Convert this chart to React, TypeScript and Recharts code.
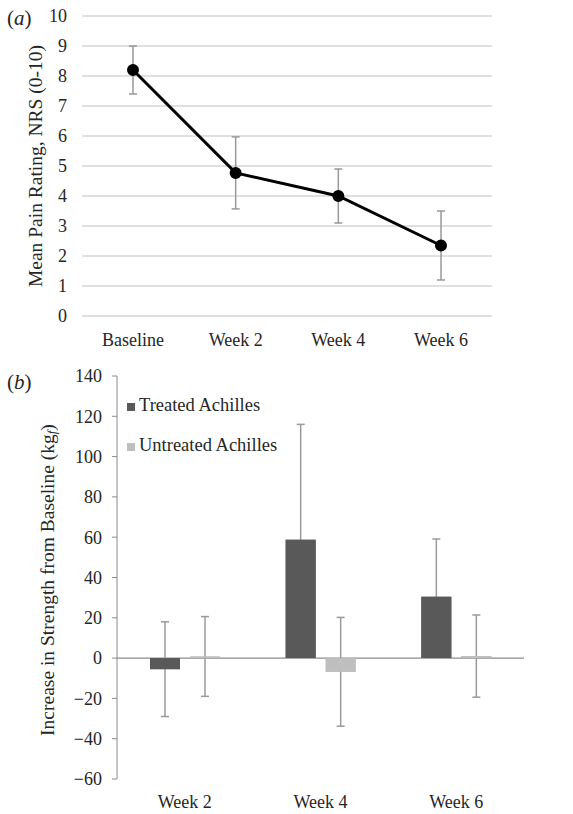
import React from 'react';
import {
  LineChart, Line, BarChart, Bar, XAxis, YAxis, CartesianGrid, ErrorBar,
  ReferenceLine, Legend,
} from 'recharts';

const painWeeks = ['Baseline', 'Week 2', 'Week 4', 'Week 6'];
const painMean = [8.2, 4.77, 4.0, 2.35];
const painSd = [0.8, 1.2, 0.9, 1.15];
const painTicks = [0, 1, 2, 3, 4, 5, 6, 7, 8, 9, 10];

const strengthWeeks = ['Week 2', 'Week 4', 'Week 6'];
const treated = [-5.5, 58.7, 30.5];
const treatedErr = [23.5, 57.3, 28.6];
const untreated = [0.8, -6.8, 1.0];
const untreatedErr = [19.8, 27, 20.4];
const strengthTicks = [-60, -40, -20, 0, 20, 40, 60, 80, 100, 120, 140];

const painData = painWeeks.map((w, i) => ({ week: w, mean: painMean[i], sd: painSd[i] }));
const strengthData = strengthWeeks.map((w, i) => ({
  week: w,
  treated: treated[i],
  treatedErr: treatedErr[i],
  untreated: untreated[i],
  untreatedErr: untreatedErr[i],
}));

const FONT = "'Liberation Serif', 'Times New Roman', serif";
const INK = '#262626';
const tickStyle = { fontFamily: FONT, fontSize: 18, fill: INK };
const minus = (v: number) => String(v).replace('-', '\u2212');

const PanelTag = ({ letter, top }: { letter: string; top: number }) => (
  <div style={{ position: 'absolute', left: 7, top, fontFamily: FONT, fontSize: 21, color: INK }}>
    (<i>{letter}</i>)
  </div>
);

export default function App() {
  return (
    <div style={{ position: 'absolute', left: 0, top: 0, width: 573, height: 814, background: '#fff', fontFamily: FONT }}>
      <div style={{ position: 'absolute', left: 0, top: 0 }}>
        <LineChart width={573} height={350} data={painData} margin={{ top: 16, right: 81, left: 0, bottom: 0 }}>
          <CartesianGrid vertical={false} stroke="#e0e0e0" strokeWidth={2} />
          <XAxis dataKey="week" axisLine={false} tickLine={false} height={34} tickMargin={11} tick={tickStyle}
            padding={{ left: 51, right: 51 }} />
          <YAxis
            width={82}
            domain={[0, 10]}
            ticks={painTicks}
            interval={0}
            axisLine={false}
            tickLine={false}
            tickMargin={9}
            tick={tickStyle}
            label={{
              content: () => (
                <text transform="translate(35,166) rotate(-90)" textAnchor="middle" dominantBaseline="central"
                  fontFamily={FONT} fontSize={19.5} fill={INK}>
                  Mean Pain Rating, NRS (0-10)
                </text>
              ),
            }}
          />
          <Line dataKey="mean" stroke="#000" strokeWidth={3} dot={{ r: 4.5, fill: '#000', stroke: '#000' }}
            isAnimationActive={false}>
            <ErrorBar dataKey="sd" width={4} stroke="#999" strokeWidth={1.5} />
          </Line>
        </LineChart>
      </div>
      <PanelTag letter="a" top={6} />

      <div style={{ position: 'absolute', left: 0, top: 350 }}>
        <BarChart width={573} height={464} data={strengthData} margin={{ top: 26, right: 49, left: 0, bottom: 0 }}
          barSize={30} barGap={10}>
          <XAxis dataKey="week" axisLine={false} tickLine={false} height={35} tickMargin={10} tick={tickStyle} />
          <YAxis
            width={117}
            domain={[-60, 140]}
            ticks={strengthTicks}
            interval={0}
            stroke="#8c8c8c"
            tickSize={5}
            tickMargin={10}
            tick={tickStyle}
            tickFormatter={minus}
            label={{
              content: () => (
                <text transform="translate(47,230) rotate(-90)" textAnchor="middle" dominantBaseline="central"
                  fontFamily={FONT} fontSize={19.5} fill={INK}>
                  Increase in Strength from Baseline (kg
                  <tspan fontSize={13} fontStyle="italic" dy={4}>f</tspan>
                  <tspan dy={-4}>)</tspan>
                </text>
              ),
            }}
          />
          <ReferenceLine y={0} stroke="#8c8c8c" strokeWidth={1.2} />
          <Legend
            layout="vertical"
            align="center"
            verticalAlign="middle"
            iconType="square"
            iconSize={8}
            wrapperStyle={{ top: 35, left: 127, width: 230, lineHeight: '40px', fontFamily: FONT, fontSize: 18.5 }}
            formatter={(value: string) => <span style={{ color: INK }}>{value}</span>}
          />
          <Bar dataKey="treated" name="Treated Achilles" fill="#595959" isAnimationActive={false}>
            <ErrorBar dataKey="treatedErr" width={4} stroke="#9a9a9a" strokeWidth={1.5} />
          </Bar>
          <Bar dataKey="untreated" name="Untreated Achilles" fill="#bfbfbf" isAnimationActive={false}>
            <ErrorBar dataKey="untreatedErr" width={4} stroke="#9a9a9a" strokeWidth={1.5} />
          </Bar>
        </BarChart>
      </div>
      {/* same bars again on top, so the error bar stems sit behind the bars as in the original */}
      <div style={{ position: 'absolute', left: 0, top: 350, pointerEvents: 'none' }}>
        <BarChart width={573} height={464} data={strengthData} margin={{ top: 26, right: 49, left: 117, bottom: 35 }}
          barSize={30} barGap={10}>
          <XAxis dataKey="week" hide />
          <YAxis domain={[-60, 140]} hide />
          <Bar dataKey="treated" fill="#595959" isAnimationActive={false} />
          <Bar dataKey="untreated" fill="#bfbfbf" isAnimationActive={false} />
        </BarChart>
      </div>
      <PanelTag letter="b" top={370} />
    </div>
  );
}
